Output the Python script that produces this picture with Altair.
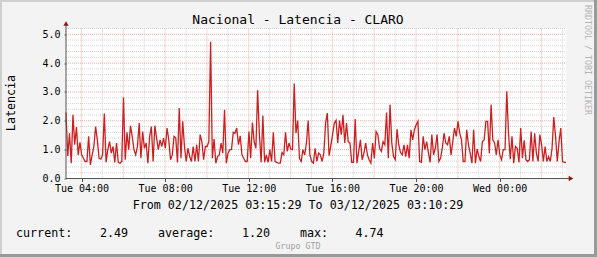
import altair as alt
import pandas as pd

# Latency samples (5-minute steps) from 02/12/2025 03:15:29 to 03/12/2025 03:10:29
values = [
    # 03:15 - ~06:35
    2.29, 0.78, 1.57, 0.53, 2.21, 1.17, 1.78, 0.82, 1.25, 0.82, 0.70, 0.59, 0.59, 1.46, 0.47, 0.82, 1.11, 1.80, 1.34, 0.70,
    0.67, 0.82, 2.25, 0.56, 1.00, 1.28, 0.88, 1.11, 0.56, 1.23, 0.56, 0.53, 0.59, 2.81, 0.65, 1.60, 1.00, 1.83, 1.46, 1.00,
    # ~06:35 - ~10:00
    0.82, 1.11, 1.92, 0.70, 1.63, 1.05, 1.23, 0.53, 1.46, 1.80, 0.59, 1.83, 1.40, 1.00, 1.34, 1.11, 1.40, 1.05, 1.75, 1.34,
    0.65, 0.82, 1.46, 1.40, 0.56, 2.44, 0.70, 1.98, 1.11, 0.59, 1.05, 0.76, 0.59, 1.11, 0.59, 1.17, 0.59, 1.52, 1.28, 0.65, 1.11,
    # ~10:00 - ~13:30
    1.11, 1.28, 4.74, 0.70, 1.37, 0.53, 0.76, 0.82, 1.23, 0.88, 2.38, 0.53, 0.88, 1.00, 1.00, 1.60, 1.57, 1.75, 1.17, 1.48,
    0.82, 0.70, 0.59, 0.59, 1.63, 0.70, 1.94, 1.28, 1.05, 3.06, 1.52, 0.56, 2.18, 0.56, 0.82, 0.56, 1.00, 0.59, 1.60, 0.59, 0.56, 0.53,
    # ~13:30 - ~17:00
    0.53, 0.90, 0.82, 1.60, 0.94, 1.23, 1.02, 1.00, 3.29, 1.57, 2.01, 0.70, 0.59, 1.00, 0.82, 1.23, 2.01, 0.82, 0.59, 0.53,
    1.05, 0.59, 0.88, 0.82, 0.59, 0.88, 1.92, 2.27, 0.79, 1.13, 1.52, 1.92, 2.02, 1.23, 2.01, 1.52, 2.21, 1.23, 1.92, 1.28, 1.23, 0.56,
    # ~17:00 - ~20:30
    0.56, 2.06, 0.53, 0.94, 1.34, 0.65, 0.88, 1.23, 0.82, 0.65, 0.53, 1.23, 0.70, 1.63, 1.52, 1.05, 0.94, 1.28, 1.17, 2.29,
    0.70, 2.56, 1.23, 0.76, 0.65, 1.71, 1.17, 0.90, 0.82, 1.17, 0.76, 1.17, 0.70, 1.69, 1.34, 1.69, 1.86, 1.98, 0.59, 0.56, 1.46, 1.00,
    # ~20:30 - ~23:55
    1.28, 0.90, 0.56, 1.52, 0.82, 1.05, 1.52, 0.59, 0.70, 1.05, 1.57, 1.23, 1.17, 1.46, 0.82, 1.28, 1.75, 1.46, 1.98, 1.57,
    1.34, 0.59, 0.59, 1.69, 1.17, 0.88, 0.53, 1.69, 0.53, 1.02, 0.76, 0.59, 1.28, 1.34, 1.98, 1.98, 0.88, 2.56, 1.34, 1.23, 0.82,
    # ~23:55 - 03:10
    1.34, 0.82, 0.65, 1.00, 1.00, 3.02, 1.57, 0.67, 1.46, 0.53, 1.11, 1.05, 0.56, 1.75, 0.70, 1.32, 0.65, 0.59, 0.65, 1.63,
    0.59, 1.57, 0.88, 0.59, 1.52, 1.17, 0.59, 1.11, 0.59, 0.76, 0.59, 1.05, 2.13, 1.46, 0.59, 1.28, 1.75, 0.59, 0.56, 0.56,
]

title = "Nacional - Latencia - CLARO"
y_title = "Latencia"
range_text = "From 02/12/2025 03:15:29 To 03/12/2025 03:10:29"
legend_tokens = ["current:", "2.49", "average:", "1.20", "max:", "4.74"]
footer = "Grupo GTD"
watermark = "RRDTOOL / TOBI OETIKER"

x_label_hours = [4, 8, 12, 16, 20, 24]
y_label_values = [0, 1, 2, 3, 4, 5]
x_major = [4, 6, 8, 10, 12, 14, 16, 18, 20, 22, 24, 26]
x_minor = [5, 7, 9, 11, 13, 15, 17, 19, 21, 23, 25, 27]
y_major = [1, 2, 3, 4, 5]
y_minor = [round(i * 0.2, 1) for i in range(1, 27) if i % 5]

start_h = 3 + 15 / 60 + 29 / 3600          # hours since Tue 00:00
end_h = start_h + 1435 / 60
hours = [start_h + i * 5 / 60 for i in range(len(values))]
df = pd.DataFrame({"h": hours, "v": values})

W, H = 500, 150
MONO = "DejaVu Sans Mono"
xs = alt.Scale(domain=[start_h, end_h], nice=False, zero=False)
ys = alt.Scale(domain=[0, 5.2], nice=False, zero=True)

MINOR_C = "#d2d2d2"
MAJOR_C = "#f3aaaa"

label_expr = ("(datum.value < 24 ? 'Tue ' : 'Wed ') + "
              "((datum.value % 24) < 10 ? '0' : '') + (datum.value % 24) + ':00'")

x_axis = alt.Axis(values=x_label_hours, labelExpr=label_expr, grid=False, domain=False,
                  ticks=True, tickSize=3, tickColor="#555555",
                  labelFont=MONO, labelFontSize=10, labelColor="#000000",
                  labelPadding=2, labelFlush=False, labelOverlap=False)
y_axis = alt.Axis(values=y_label_values, format=".1f", grid=False, domain=False,
                  ticks=True, tickSize=2, tickColor="#555555",
                  labelFont=MONO, labelFontSize=10, labelColor="#000000",
                  labelPadding=4, labelOverlap=False, labelFlush=False)


def X(field):
    return alt.X(field, scale=xs, title="", axis=x_axis)


def Y(field):
    return alt.Y(field, scale=ys, title="", axis=y_axis)


minor_x = alt.Chart(pd.DataFrame({"h": x_minor})).mark_rule(
    color=MINOR_C, strokeDash=[1, 1], strokeWidth=1
).encode(x=X("h:Q"), y=alt.value(0), y2=alt.value(H))
major_x = alt.Chart(pd.DataFrame({"h": x_major})).mark_rule(
    color=MAJOR_C, strokeDash=[1, 1], strokeWidth=1
).encode(x=X("h:Q"), y=alt.value(0), y2=alt.value(H))
minor_y = alt.Chart(pd.DataFrame({"v": y_minor})).mark_rule(
    color=MINOR_C, strokeDash=[1, 1], strokeWidth=1
).encode(y=Y("v:Q"), x=alt.value(0), x2=alt.value(W))
major_y = alt.Chart(pd.DataFrame({"v": y_major})).mark_rule(
    color=MAJOR_C, strokeDash=[1, 1], strokeWidth=1
).encode(y=Y("v:Q"), x=alt.value(0), x2=alt.value(W))

line = alt.Chart(df).mark_line(color="#cc2020", strokeWidth=1.3, interpolate="linear").encode(
    x=X("h:Q"), y=Y("v:Q"))

# axis lines with arrows
y_axis_line = alt.Chart(alt.Data(values=[{}])).mark_rule(color="#555555", strokeWidth=1).encode(
    x=alt.value(0), y=alt.value(-4), y2=alt.value(H))
x_axis_line = alt.Chart(alt.Data(values=[{}])).mark_rule(color="#555555", strokeWidth=1).encode(
    x=alt.value(0), x2=alt.value(W + 4), y=alt.value(H))
y_arrow = alt.Chart(alt.Data(values=[{}])).mark_point(
    shape="triangle-up", filled=True, color="#8b1a1a", size=28, opacity=1).encode(
    x=alt.value(0), y=alt.value(-5))
x_arrow = alt.Chart(alt.Data(values=[{}])).mark_point(
    shape="triangle-right", filled=True, color="#8b1a1a", size=28, opacity=1).encode(
    x=alt.value(W + 5), y=alt.value(H))


def txt(s, x, y, size, color="#000000", align="center", angle=0):
    kw = dict(text=s, font=MONO, fontSize=size, color=color, align=align, baseline="middle")
    if angle:
        kw["angle"] = angle
    return alt.Chart(alt.Data(values=[{}])).mark_text(**kw).encode(x=alt.value(x), y=alt.value(y))


texts = [
    txt(title, 232, -9, 13),
    txt(y_title, -55, 74.5, 11.7, angle=270),
    txt(range_text, 232, 176, 11.7),
    txt(footer, 232, 218, 8.3, color="#a0a0a0"),
    txt(watermark, 521, 31.5, 8.3, color="#b4b4b4", angle=90),
]
leg_x = [-50, 34, 92, 176, 234, 289.5]
for tok, lx in zip(legend_tokens, leg_x):
    texts.append(txt(tok, lx, 204, 11.7, align="left"))

# outer 3D frame
frame = [
    alt.Chart(alt.Data(values=[{}])).mark_rule(color="#cfcfcf", strokeWidth=2).encode(
        x=alt.value(-65), y=alt.value(-28.5), y2=alt.value(228.5)),
    alt.Chart(alt.Data(values=[{}])).mark_rule(color="#cfcfcf", strokeWidth=2).encode(
        x=alt.value(-66), x2=alt.value(531), y=alt.value(-27.5)),
    alt.Chart(alt.Data(values=[{}])).mark_rule(color="#9a9a9a", strokeWidth=3).encode(
        x=alt.value(529.5), y=alt.value(-28.5), y2=alt.value(228.5)),
    alt.Chart(alt.Data(values=[{}])).mark_rule(color="#9a9a9a", strokeWidth=3).encode(
        x=alt.value(-66), x2=alt.value(531), y=alt.value(227)),
]

chart = alt.layer(
    minor_x, minor_y, major_x, major_y, line, y_axis_line, x_axis_line, y_arrow, x_arrow,
    *texts, *frame
).properties(
    width=W, height=H,
    autosize=alt.AutoSizeParams(type="none"),
    padding={"left": 66, "top": 28.5, "right": 31, "bottom": 78.5},
    background="#f3f3f3",
).configure_view(
    fill="#ffffff", stroke=None
)

chart.save("out.html", embed_options={"renderer": "svg", "actions": False})
